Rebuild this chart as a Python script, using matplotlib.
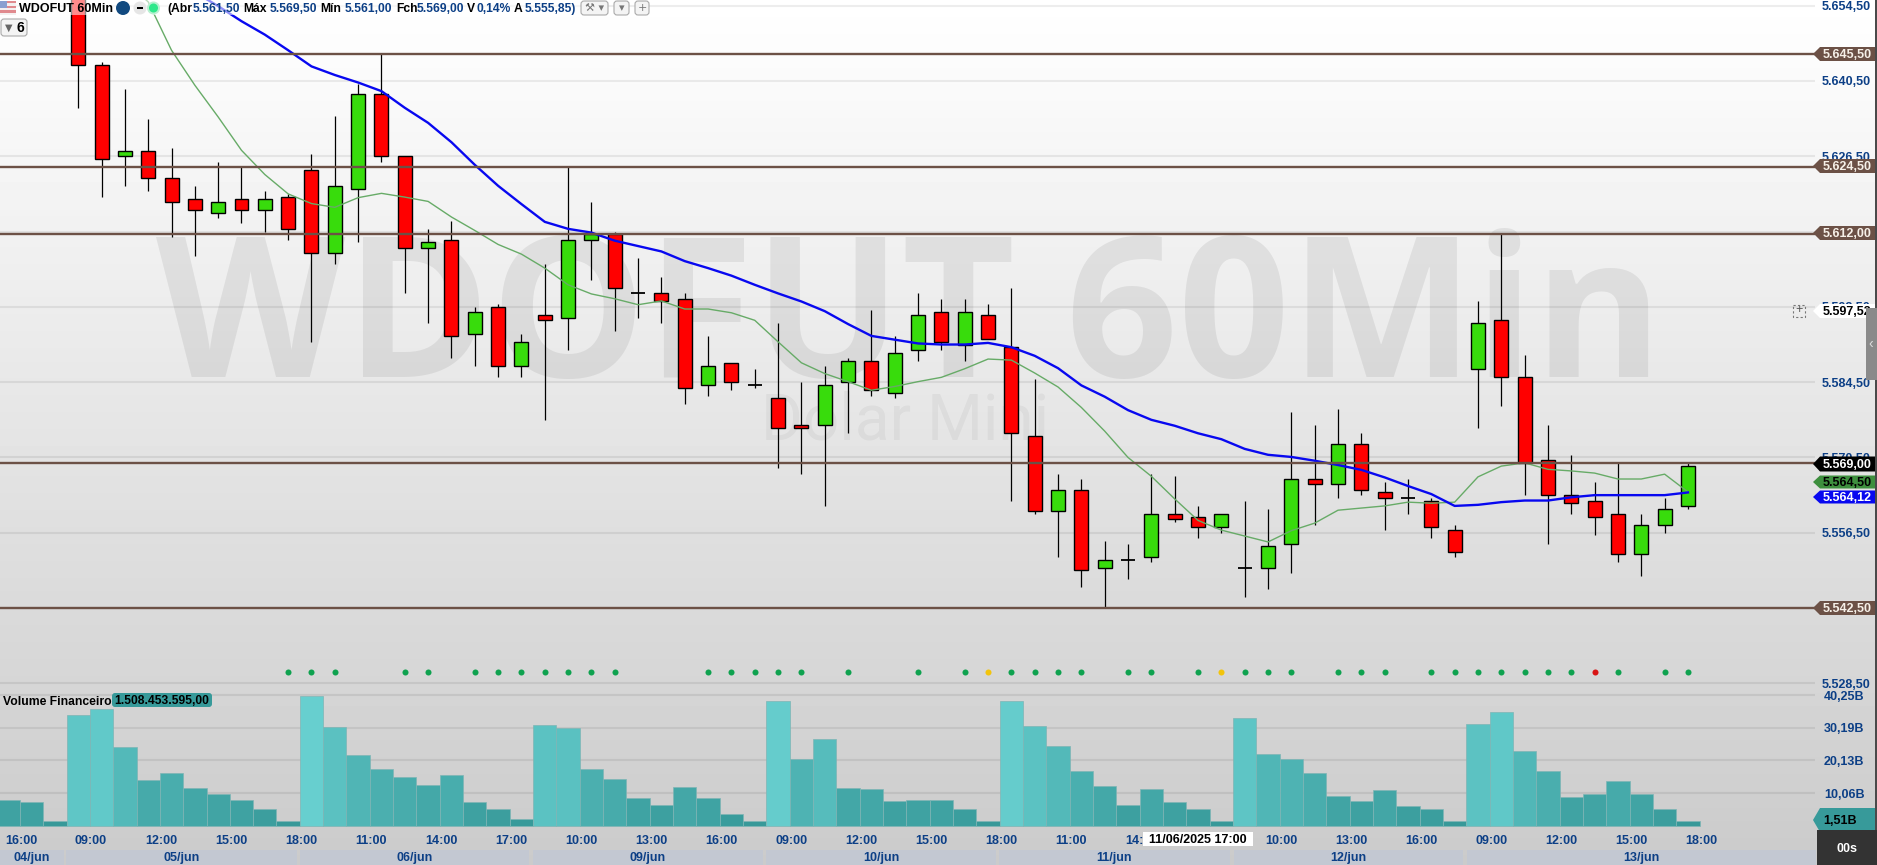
import numpy as np
import matplotlib
matplotlib.use("Agg")
import matplotlib.pyplot as plt
from matplotlib.patches import Polygon, Rectangle, Circle, FancyBboxPatch
from matplotlib.colors import to_rgb

W, H = 1877, 865
plt.rcParams['font.family'] = ['Liberation Sans', 'DejaVu Sans']

# Candles start at bar 3, the earlier bars are above the visible range
first_candle = 3
opens = [5660, 5643.5, 5626.5, 5627.5, 5622.5, 5618.5, 5616, 5618.5, 5616.5, 5619, 5624, 5608.5, 5620.5, 5638,
         5626.5, 5609.5, 5611, 5593.5, 5598.5, 5587.5, 5597, 5596.5, 5611, 5612, 5601, 5601, 5600, 5584, 5588,
         5584, 5581.5, 5576.5, 5576.5, 5584.5, 5588.5, 5582.5, 5590.5, 5597.5, 5591.5, 5597, 5591, 5574.5,
         5560.5, 5564.5, 5550, 5551.5, 5552, 5560, 5559.5, 5557.5, 5550, 5550, 5554.5, 5566.5, 5565.5, 5573,
         5564, 5563, 5562.5, 5557, 5587, 5596, 5585.5, 5570, 5563.5, 5562.5, 5560, 5552.5, 5558, 5561.5]
highs = [5662, 5644, 5639, 5633.5, 5628, 5621, 5625.5, 5624.5, 5620, 5619.5, 5627, 5634, 5640, 5645.5,
         5626.5, 5613, 5614.5, 5598.5, 5599, 5593.5, 5606.5, 5624.5, 5618, 5612.5, 5607.5, 5604, 5601, 5593,
         5588, 5587, 5595.5, 5584.5, 5587.5, 5589, 5598, 5593, 5601, 5600, 5600, 5599, 5602, 5585,
         5567.5, 5566.5, 5555, 5554.5, 5567.5, 5567, 5561.5, 5560, 5562.5, 5561, 5579, 5576.5, 5579.5, 5575,
         5566, 5566.5, 5563, 5558, 5599.5, 5612, 5589.5, 5576.5, 5571, 5566, 5569.5, 5560, 5563, 5569.5]
lows = [5635.5, 5619, 5621, 5620, 5611.5, 5608, 5615, 5614, 5612.5, 5611, 5592, 5606.5, 5610.5, 5625.5,
        5601, 5595.5, 5589, 5587.5, 5585.5, 5585.5, 5577.5, 5590.5, 5603.5, 5594, 5596.5, 5595.5, 5580.5, 5582,
        5583, 5583.5, 5568.5, 5567.5, 5561.5, 5575, 5582, 5581.5, 5588.5, 5590.5, 5588.5, 5592.5, 5562.5, 5560,
        5552, 5546.5, 5542.5, 5548, 5551, 5558.5, 5555.5, 5556.5, 5544.5, 5546, 5549, 5558, 5563, 5563.5,
        5557, 5560, 5555.5, 5552, 5576, 5580, 5563.5, 5554.5, 5560, 5556, 5551, 5548.5, 5556.5, 5561]
closes = [5643.5, 5626, 5627.5, 5622.5, 5618, 5616.5, 5618, 5616.5, 5618.5, 5613, 5608.5, 5621, 5638, 5626.5,
          5609.5, 5610.5, 5593, 5597.5, 5587.5, 5592, 5596, 5611, 5612, 5602, 5601, 5599.5, 5583.5, 5587.5,
          5584.5, 5584, 5576, 5576, 5584, 5588.5, 5583, 5590, 5597, 5592, 5597.5, 5592.5, 5575, 5560.5,
          5564.5, 5549.5, 5551.5, 5551.5, 5560, 5559, 5557.5, 5560, 5550, 5554, 5566.5, 5565.5, 5573, 5564.5,
          5563, 5563, 5557.5, 5553, 5595.5, 5585.5, 5569.5, 5563.5, 5562, 5559.5, 5552.5, 5558, 5561, 5569]

# Moving averages, blue starts at bar 8 and green at bar 5
blue_start = 8
blue_ma = [5657, 5654.4, 5651.6, 5649.1, 5646.2, 5643.2, 5641.6, 5640.2, 5638.6, 5635.5, 5632.7, 5629.1, 5624.9,
           5621, 5617.6, 5614.3, 5613, 5612.3, 5610.8, 5609.8, 5608.8, 5607, 5605.7, 5604.3, 5602.6, 5601, 5599.5,
           5597.7, 5595.3, 5593.1, 5592.4, 5591.7, 5591.5, 5591.5, 5591.8, 5591, 5589.4, 5587.1, 5583.9, 5581.8,
           5579.3, 5577.5, 5576.4, 5575, 5573.9, 5572.1, 5571, 5570.6, 5569.9, 5569.1, 5568.2, 5566.8, 5565.2,
           5563.7, 5561.5, 5561.7, 5562.2, 5562.5, 5562.5, 5563.1, 5563.5, 5563.5, 5563.5, 5563.5, 5564]
green_start = 5
green_ma = [5659, 5655.2, 5646.2, 5639.7, 5633.8, 5627.6, 5623.1, 5619.5, 5617.7, 5617, 5618.8, 5619.6, 5618.9,
            5618.1, 5615.2, 5612.7, 5610.1, 5608.3, 5605.7, 5602.6, 5600.9, 5600, 5598.9, 5599.6, 5598.1, 5598.1,
            5597.4, 5596, 5592, 5588.1, 5586.1, 5584.6, 5583, 5583.7, 5584.6, 5585.4, 5587, 5588.8, 5588.6, 5586.2,
            5583.6, 5579.8, 5575.4, 5570.5, 5567, 5562.8, 5558.8, 5557, 5555.9, 5554.8, 5556.9, 5558.3, 5560.7,
            5561.1, 5561.5, 5562.2, 5562, 5562.2, 5566.9, 5568.9, 5569.5, 5568.3, 5568, 5567.6, 5566.5, 5566.5,
            5567.4, 5564.1]

# Financial volume in billions, one per bar
volume = [7.8, 7.2, 1.3, 34.0, 35.8, 24.1, 14.0, 16.1, 11.5, 9.7, 7.8, 5.3, 1.6, 40.1, 30.3, 21.7, 17.4, 14.9, 12.4,
          15.5, 7.2, 5.3, 2.0, 30.9, 30.0, 17.4, 14.3, 8.4, 6.3, 11.8, 8.4, 3.5, 1.6, 38.3, 20.4, 26.6, 11.5, 11.2,
          7.5, 7.8, 7.8, 5.0, 1.3, 38.3, 30.6, 24.4, 17.0, 12.1, 6.3, 11.2, 7.2, 5.0, 1.3, 33.1, 22.0, 20.4, 16.1,
          9.3, 7.5, 10.9, 6.0, 5.0, 1.6, 31.2, 34.9, 22.9, 16.7, 8.7, 9.7, 13.7, 9.7, 5.3, 1.51]

# Signal dots under the candles
green_dots = [12, 13, 14, 17, 18, 20, 21, 22, 23, 24, 25, 26, 30, 31, 32, 33, 34, 36, 39, 41, 43, 44, 45, 46, 48, 49,
              51, 53, 54, 55, 57, 58, 59, 61, 62, 63, 64, 65, 66, 67, 69, 71, 72]
yellow_dots = [42, 52]
red_dots = [68]

hour_labels = ['16:00', '09:00', '12:00', '15:00', '18:00', '11:00', '14:00', '17:00', '10:00', '13:00', '16:00',
               '09:00', '12:00', '15:00', '18:00', '11:00', '14:00', '17:00', '10:00', '13:00', '16:00', '09:00',
               '12:00', '15:00', '18:00']
day_labels = ['04/jun', '05/jun', '06/jun', '09/jun', '10/jun', '11/jun', '12/jun', '13/jun']
day_edges = [(0, 64), (66, 297), (300, 529), (533, 763), (766, 996), (999, 1230), (1234, 1463), (1467, 1816)]

price_ticks = [5654.5, 5640.5, 5626.5, 5612.5, 5598.5, 5584.5, 5570.5, 5556.5, 5542.5, 5528.5]
level_prices = [5645.5, 5624.5, 5612, 5569.5, 5542.5]
volume_ticks = [0, 10.06, 20.13, 30.19, 40.25]
volume_tick_labels = ['0,00', '10,06B', '20,13B', '30,19B', '40,25B']

GREEN = '#38dc0c'
RED = '#ff0000'
BROWN = '#6c5146'
NAVY = '#0c3f86'
TEAL = '#379a9a'


def br(x):
    # 5564.5 -> 5.564,50
    return f'{x:,.2f}'.replace(',', 'X').replace('.', ',').replace('X', '.')


fig = plt.figure(figsize=(W / 100, H / 100), dpi=100)

# page gradient sits under everything
bg = fig.add_axes([0, 0, 1, 1], zorder=0)
grad = np.linspace(1.0, 0.795, 256).reshape(-1, 1)
bg.imshow(grad, aspect='auto', cmap='gray', vmin=0, vmax=1, extent=[0, W, H, 0])
bg.set_xlim(0, W)
bg.set_ylim(H, 0)
bg.axis('off')
bg.text(909, 326, 'WDOFUT 60Min', fontsize=141, fontweight='bold', family='Open Sans', color='#000000', alpha=0.07,
        ha='center', va='center')
bg.text(905, 421, 'Dolar Mini', fontsize=46, family='Roboto', color='#000000', alpha=0.045, ha='center', va='center')


def pixel_axes(left, top, right, bottom, z):
    a = fig.add_axes([left / W, 1 - bottom / H, (right - left) / W, (bottom - top) / H], zorder=z)
    a.patch.set_alpha(0)
    for s in a.spines.values():
        s.set_visible(False)
    a.set_xticks([])
    a.set_yticks([])
    return a


# bar index <-> pixel: first bar at 8.2, spacing 23.33
ax = pixel_axes(0, 0, 1815, 690, 2)
ax.set_xlim(-8.2 / 23.33, (1815 - 8.2) / 23.33)
ax.set_ylim(5527.28, 5655.54)

vol = pixel_axes(0, 690, 1815, 830, 2)
vol.set_xlim(ax.get_xlim())
vol.set_ylim(-1.32, 41.8)

for p in price_ticks:
    ax.axhline(p, color='k', alpha=0.07, lw=1.5, zorder=1)
for v in volume_ticks[1:]:
    vol.axhline(v, color='k', alpha=0.07, lw=1.5, zorder=1)

x = np.arange(len(opens)) + first_candle
o, h, l, c = map(np.array, (opens, highs, lows, closes))
up = c >= o
colors = [GREEN if u else RED for u in up]
ax.vlines(x, l, h, color='k', lw=0.9, zorder=3)
# flat candles read as a black dash, drop the fill there
flat = o == c
ax.bar(x[~flat], np.abs(c - o)[~flat], bottom=np.minimum(o, c)[~flat], width=0.6,
       color=np.array(colors)[~flat], edgecolor='k', lw=1.0, zorder=4)
ax.hlines(c[flat], x[flat] - 0.3, x[flat] + 0.3, color='k', lw=1.3, zorder=4)

ax.plot(np.arange(len(green_ma)) + green_start, green_ma, color='#67ab67', lw=1.0, zorder=5)
ax.plot(np.arange(len(blue_ma)) + blue_start, blue_ma, color='#0808f0', lw=1.7, zorder=5)

for p in level_prices:
    ax.axhline(p, color=BROWN, lw=1.7, zorder=6)

dot_y = 5530.6
ax.scatter(green_dots, [dot_y] * len(green_dots), s=19, color='#0fa24f', lw=0, zorder=5)
ax.scatter(yellow_dots, [dot_y] * len(yellow_dots), s=19, color='#f2c40c', lw=0, zorder=5)
ax.scatter(red_dots, [dot_y] * len(red_dots), s=19, color='#d81414', lw=0, zorder=5)

# volume bars get lighter with height
low_col = np.array(to_rgb('#359797'))
high_col = np.array(to_rgb('#67cfcf'))
bar_x = np.arange(len(volume))
bar_cols = [low_col + (high_col - low_col) * min(v / 40.25, 1) for v in volume]
vol.bar(bar_x, volume, width=1.0, color=bar_cols, edgecolor='#7fb5b5', lw=0.5, zorder=3)

# overlay in figure pixels for the interface pieces
ui = fig.add_axes([0, 0, 1, 1], zorder=5)
ui.set_xlim(0, W)
ui.set_ylim(H, 0)
ui.axis('off')

TICK_FS = 9
# right scale labels
for p in price_ticks:
    y = (5655.54 - p) * 5.38 + 1.5
    ui.text(1822, y, br(p), fontsize=TICK_FS, fontweight='bold', color=NAVY, va='center', ha='left', zorder=2)
for v, s in zip(volume_ticks, volume_tick_labels):
    y = 825.7 - v * 3.247 + 1.5
    ui.text(1824, y, s, fontsize=TICK_FS, fontweight='bold', color=NAVY, va='center', ha='left', zorder=2)


def tag(y, s, color, fg='#f6f0e8', h=14):
    pts = [(1813, y), (1820, y - h / 2), (1875, y - h / 2), (1875, y + h / 2), (1820, y + h / 2)]
    ui.add_patch(Polygon(pts, closed=True, color=color, lw=0, zorder=4))
    ui.text(1823, y + 1, s, fontsize=TICK_FS, fontweight='bold', color=fg, va='center', ha='left', zorder=5)


tag(54, '5.645,50', BROWN)
tag(166, '5.624,50', BROWN)
tag(233, '5.612,00', BROWN)
tag(311, '5.597,52', 'white', fg='black')
tag(464, '5.569,00', 'black', fg='white', h=15)
tag(482, '5.564,50', '#3e8f3e', fg='black', h=13)
tag(497, '5.564,12', '#0808f0', fg='white', h=13)
tag(608, '5.542,50', BROWN)
tag(820, '1,51B', TEAL, fg='black', h=24)

# dark edge on the right
ui.add_patch(Rectangle((1875, 0), 2, 830, color='#4a4a4a', lw=0, zorder=6))

# side handle
ui.add_patch(Rectangle((1866, 308), 11, 72, color='#8a8a8a', lw=0, zorder=6))
ui.text(1871, 344, '‹', fontsize=10, color='#dddddd', ha='center', va='center', zorder=7)

# crosshair marker
ui.add_patch(Rectangle((1793, 305), 12, 12, fill=False, ec='#777777', lw=0.8, ls=(0, (2, 2)), zorder=4))
ui.text(1799, 310.5, '+', fontsize=9, color='#555555', ha='center', va='center', zorder=5)

# hour labels
for k, s in enumerate(hour_labels):
    ui.text(21 + 70.03 * k, 841, s, fontsize=TICK_FS, fontweight='bold', color=NAVY, ha='center', va='center', zorder=2)

# day bands
for (a, b), s in zip(day_edges, day_labels):
    ui.add_patch(Rectangle((a, 850), b - a, 15, color='#c3c8d2', lw=0, zorder=2))
    ui.text((a + b) / 2, 858.5, s, fontsize=TICK_FS, fontweight='bold', color=NAVY, ha='center', va='center', zorder=3)

# hovered date
ui.add_patch(Rectangle((1143, 832), 110, 14, color='white', lw=0, zorder=4))
ui.text(1198, 840, '11/06/2025 17:00', fontsize=TICK_FS, fontweight='bold', color='black', ha='center', va='center', zorder=5)

# countdown box
ui.add_patch(Rectangle((1817, 830), 60, 35, color='#333333', lw=0, zorder=6))
ui.text(1847, 849, '00s', fontsize=TICK_FS, fontweight='bold', color='white', ha='center', va='center', zorder=7)

# volume legend
ui.text(3, 702, 'Volume Financeiro', fontsize=8.7, fontweight='bold', color='black', va='center', zorder=4)
ui.add_patch(FancyBboxPatch((112, 693), 100, 14, boxstyle='round,pad=0,rounding_size=3', color=TEAL, lw=0, zorder=3))
ui.text(114, 701, '1.508.453.595,00', fontsize=8.7, fontweight='bold', color='black', va='center', zorder=4)

# header band fades what runs behind it
ui.add_patch(Rectangle((0, 0), 580, 15, color='white', alpha=0.55, lw=0, zorder=1))
for k in range(6):
    ui.add_patch(Rectangle((0, 1 + 2.3 * k), 16, 2.3, color='#e08a8e' if k % 2 == 0 else '#f4f0f0', lw=0, zorder=2))
ui.add_patch(Rectangle((0, 1), 7, 7, color='#8aa0d0', lw=0, zorder=3))
ui.text(19, 9, 'WDOFUT 60Min', fontsize=9, fontweight='bold', color='black', va='center', zorder=3)
ui.add_patch(Circle((123, 8), 7, color='#124a80', lw=0, zorder=3))
ui.add_patch(Circle((140, 8), 6.5, color='#e6e6e6', lw=0, zorder=3))
ui.add_patch(Rectangle((137, 7), 6, 2, color='black', lw=0, zorder=4))
ui.add_patch(Circle((153.5, 8), 6.5, color='#b8f0d0', lw=0, zorder=3))
ui.add_patch(Circle((153.5, 8), 4.5, color='#2ee88a', lw=0, zorder=4))

header_text = ['(Abr', '5.561,50', 'Máx', '5.569,50', 'Mín', '5.561,00', 'Fch', '5.569,00', 'V', '0,14%', 'A', '5.555,85)']
header_x = [167, 193, 243, 270, 320, 345, 396, 417, 467, 477, 514, 525]
for k, (s, px) in enumerate(zip(header_text, header_x)):
    col = 'black' if k % 2 == 0 else NAVY
    ui.text(px, 9, s, fontsize=8.7, fontweight='bold', color=col, va='center', zorder=3)

for left, right, glyph in [(581, 608, '⚒ ▾'), (614, 629, '▾'), (635, 649, '+')]:
    ui.add_patch(FancyBboxPatch((left, 1), right - left, 14, boxstyle='round,pad=0,rounding_size=3', fc='#f4f4f4',
                                ec='#aaaaaa', lw=0.8, zorder=3))
    ui.text((left + right) / 2, 8, glyph, fontsize=8, color='#777777', ha='center', va='center', zorder=4,
            family='DejaVu Sans')

ui.add_patch(FancyBboxPatch((1, 19), 26, 17, boxstyle='round,pad=0,rounding_size=3', fc='#f4f4f4', ec='#aaaaaa',
                            lw=0.8, zorder=3))
ui.text(9, 28, '▼', fontsize=7, color='#666666', ha='center', va='center', zorder=4, family='DejaVu Sans')
ui.text(20, 28, '6', fontsize=10, fontweight='bold', color='black', ha='center', va='center', zorder=4)

fig.savefig('out.png', dpi=100)
